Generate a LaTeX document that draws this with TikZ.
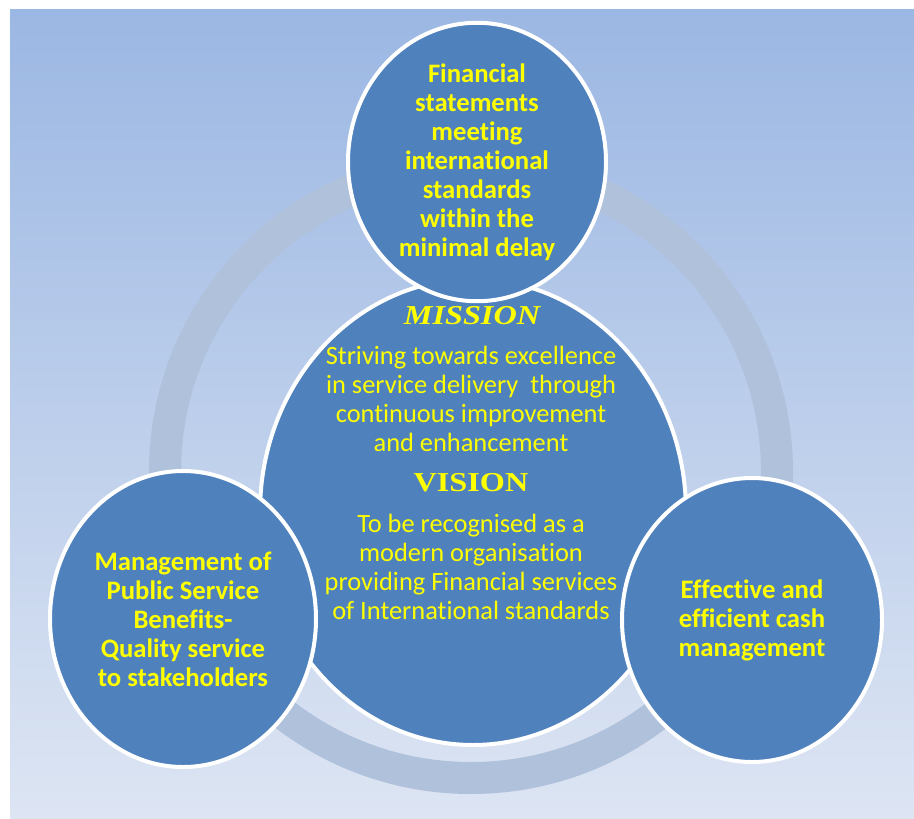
\documentclass[tikz,border=0pt]{standalone}
\usepackage{fontspec}
\setmainfont{Carlito}[Ligatures=NoCommon]
\newfontfamily\headfont[FakeStretch=1.18]{Liberation Serif}
\usetikzlibrary{shapes.geometric}
\definecolor{bgtop}{HTML}{9BB7E3}
\definecolor{bgbot}{HTML}{DDE5F3}
\definecolor{ringblue}{HTML}{B0C1DB}
\definecolor{discblue}{HTML}{4F81BD}
\definecolor{ink}{HTML}{FFFF00}
\tikzset{
  disc/.style 2 args={ellipse, draw=white, line width=3pt, fill=discblue,
    text=ink, inner sep=0pt, align=center,
    minimum width={#1*0.75pt}, minimum height={#2*0.75pt},
    font=\fontsize{20}{21.75}\selectfont\bfseries},
  body/.style={text=ink, align=center, inner sep=0pt,
    font=\fontsize{19.8}{21.75}\selectfont},
  head/.style={text=ink, inner sep=0pt,
    font=\headfont\fontsize{20.5}{22}\selectfont\bfseries}
}

\begin{document}
\begin{tikzpicture}[x=0.75pt,y=-0.75pt]
\useasboundingbox (0,0) rectangle (914,818);
% backdrop and ring
\shade[top color=bgtop, bottom color=bgbot] (10,9) rectangle (914,818);
\draw[ringblue, line width=24pt] (471,472) circle[radius=229.5pt];
% middle disc
\node[disc={426}{466}] (core) at (473,512) {};
\node[head] (mission) at (472,316) {\itshape MISSION};
\node[body] (missiontext) at (471,399) {Striving towards excellence\\
  in service delivery\ \ through\\ continuous improvement\\ and enhancement};
\node[head] (vision) at (471,483) {VISION};
\node[body] (visiontext) at (471,567) {To be recognised as a\\
  modern organisation\\ providing Financial services\\ of International standards};
% outer discs
\node[disc={258}{256}] (reports) at (477,162) {Financial\\ statements\\ meeting\\
  international\\ standards\\ within the\\ minimal delay};
\node[disc={266}{296}] (benefits) at (183,619) {Management of\\ Public Service\\
  Benefits-\\ Quality service\\ to stakeholders};
\node[disc={260}{284}] (cash) at (752,620) {Effective and\\ efficient cash\\ management};
\end{tikzpicture}
\end{document}
